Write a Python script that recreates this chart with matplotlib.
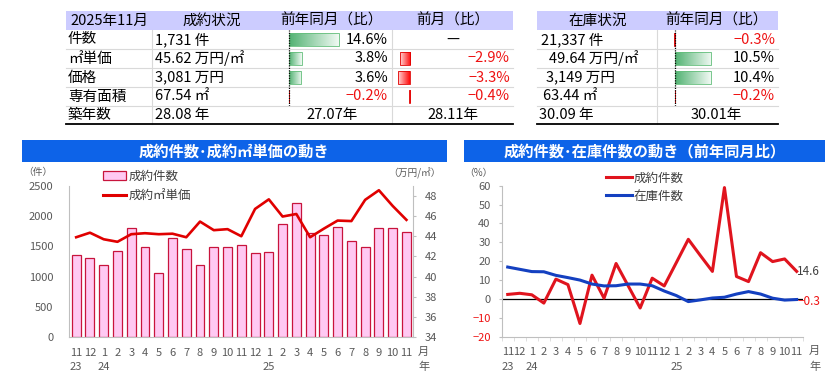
import numpy as np
import matplotlib
matplotlib.use("Agg")
import matplotlib.pyplot as plt
from matplotlib.patches import Rectangle, Patch
from matplotlib.lines import Line2D
from matplotlib.colors import LinearSegmentedColormap

plt.rcParams['font.family'] = ['Noto Sans CJK JP', 'DejaVu Sans']

# ---- data ----
report_month = "2025年11月"
row_labels = ["件数", "㎡単価", "価格", "専有面積", "築年数"]
sold_values = ["1,731 件", "45.62 万円/㎡", "3,081 万円", "67.54 ㎡", "28.08 年"]
sold_yoy = [14.6, 3.8, 3.6, -0.2]
sold_mom = [None, -2.9, -3.3, -0.4]
sold_age_yoy = "27.07年"
sold_age_mom = "28.11年"
stock_values = ["21,337 件", "49.64 万円/㎡", "3,149 万円", "63.44 ㎡", "30.09 年"]
stock_yoy = [-0.3, 10.5, 10.4, -0.2]
stock_age_yoy = "30.01年"

months = ["11", "12", "1", "2", "3", "4", "5", "6", "7", "8", "9", "10",
          "11", "12", "1", "2", "3", "4", "5", "6", "7", "8", "9", "10", "11"]
years = {0: "23", 2: "24", 14: "25"}
sold_count = [1365, 1300, 1192, 1418, 1797, 1494, 1065, 1630, 1461, 1192, 1497, 1494,
              1515, 1395, 1412, 1868, 2210, 1723, 1684, 1812, 1596, 1484, 1797, 1810, 1731]
sold_unit_price = [43.9, 44.35, 43.7, 43.45, 44.2, 44.3, 44.2, 44.25, 43.9, 45.45, 44.6, 44.7,
                   44.0, 46.7, 47.65, 45.95, 46.2, 43.9, 44.75, 45.55, 45.5, 47.6, 48.55, 47.0, 45.62]
sold_count_yoy = [2.4, 3.0, 2.2, -2.2, 10.5, 7.6, -13.0, 12.6, 0.4, 18.8, 7.0, -4.8,
                  11.0, 6.9, 19.2, 31.6, 23.0, 14.6, 59.0, 11.9, 9.2, 24.5, 19.8, 21.2, 14.6]
stock_count_yoy = [16.9, 15.7, 14.5, 14.4, 12.5, 11.3, 10.0, 7.9, 6.9, 7.0, 7.9, 7.9,
                   7.0, 4.2, 1.8, -1.4, -0.5, 0.5, 0.9, 2.6, 3.9, 2.6, 0.4, -0.6, -0.3]

W, H = 840, 383
GRAY = '#595959'
NEG = '#ee1111'

fig = plt.figure(figsize=(W / 100, H / 100), dpi=100)


def px_axes(x0, y0, x1, y1):
    return fig.add_axes([x0 / W, 1 - y1 / H, (x1 - x0) / W, (y1 - y0) / H])


bg = px_axes(0, 0, W, H)
bg.set_xlim(0, W)
bg.set_ylim(H, 0)
bg.axis('off')

# ---- tables ----
row_edges = [30, 49, 68, 87, 106, 124]
row_mid = [(a + b) / 2 for a, b in zip(row_edges[:-1], row_edges[1:])]
fs = 10.5


def pct(v):
    return f"{v:.1f}%".replace('-', '−')


def table_frame(x0, x1, vlines):
    bg.add_patch(Rectangle((x0, 11), x1 - x0, 19, color='#ccccff', lw=0))
    for y in row_edges[1:-1]:
        bg.plot([x0, x1], [y, y], color='#d9d9d9', lw=0.8)
    for x in vlines:
        bg.plot([x, x], [30, 124], color='#d9d9d9', lw=0.8)
    bg.plot([x0, x1], [124, 124], color='black', lw=1.3)


table_frame(66, 513, [151.7, 391.7])
table_frame(537, 778, [656.7])

bg.text(70, 20.5, report_month, fontsize=fs, va='center')
bg.text(211.7, 20.5, "成約状況", fontsize=fs, va='center', ha='center')
bg.text(331.7, 20.5, "前年同月（比）", fontsize=fs, va='center', ha='center')
bg.text(453, 20.5, "前月（比）", fontsize=fs, va='center', ha='center')
bg.text(598, 20.5, "在庫状況", fontsize=fs, va='center', ha='center')
bg.text(716.7, 20.5, "前年同月（比）", fontsize=fs, va='center', ha='center')

for i, lab in enumerate(row_labels):
    bg.text(68, row_mid[i], lab, fontsize=fs, va='center')
    bg.text(155, row_mid[i], sold_values[i], fontsize=fs, va='center')
stock_x = [541, 549, 546, 543, 539]
for i, s in enumerate(stock_values):
    bg.text(stock_x[i], row_mid[i], s, fontsize=fs, va='center')

for i, v in enumerate(sold_yoy):
    bg.text(388, row_mid[i], pct(v), fontsize=fs, va='center', ha='right',
            color=NEG if v < 0 else 'black')
for i, v in enumerate(sold_mom):
    if v is None:
        bg.text(453, row_mid[i], "—", fontsize=fs, va='center', ha='center')
    else:
        bg.text(510, row_mid[i], pct(v), fontsize=fs, va='center', ha='right',
                color=NEG if v < 0 else 'black')
for i, v in enumerate(stock_yoy):
    bg.text(775, row_mid[i], pct(v), fontsize=fs, va='center', ha='right',
            color=NEG if v < 0 else 'black')
bg.text(331.7, row_mid[4], sold_age_yoy, fontsize=fs, va='center', ha='center')
bg.text(453, row_mid[4], sold_age_mom, fontsize=fs, va='center', ha='center')
bg.text(716.7, row_mid[4], stock_age_yoy, fontsize=fs, va='center', ha='center')

green_cmap = LinearSegmentedColormap.from_list('g', ['#52b272', '#f0f9f3'])
red_cmap = LinearSegmentedColormap.from_list('r', ['#ff0a0a', '#ffd6d6'])


def data_bars(axis_px, x0, x1, scale, values, dotted):
    ax = px_axes(x0, 30, x1, 106)
    grad = np.linspace(0, 1, 64).reshape(1, -1)
    h = 0.66
    for i, v in enumerate(values):
        if v is None:
            continue
        cmap, ec = (green_cmap, '#63be7b') if v >= 0 else (red_cmap, '#e00000')
        ax.imshow(grad, cmap=cmap, aspect='auto', interpolation='bilinear',
                  extent=(0, v, i + h / 2, i - h / 2))
        ax.barh(i, v, height=h, fill=False, edgecolor=ec, lw=0.6)
    if dotted:
        ax.axvline(0, color='black', ls=(0, (1, 1)), lw=0.9, zorder=5)
    ax.set_xlim((x0 - axis_px) / scale, (x1 - axis_px) / scale)
    ax.set_ylim(3.5, -0.5)
    ax.axis('off')


data_bars(289.3, 280, 390, 3.37, sold_yoy, True)
data_bars(410.3, 340, 411, 3.6, sold_mom, False)
data_bars(675.3, 665, 760, 3.43, stock_yoy, True)

# ---- chart banners ----
bg.add_patch(Rectangle((21.7, 140), 425, 22, color='#0d63e8', lw=0))
bg.text(234, 151.5, "成約件数･成約㎡単価の動き", color='white', fontsize=11,
        fontweight='bold', ha='center', va='center')
bg.add_patch(Rectangle((464, 140), 361, 22, color='#0d63e8', lw=0))
bg.text(644.5, 151.5, "成約件数･在庫件数の動き（前年同月比）", color='white', fontsize=11,
        fontweight='bold', ha='center', va='center')

bg.text(53, 172, "（件）", fontsize=7, color=GRAY, ha='right', va='center')
bg.text(441, 173, "（万円/㎡）", fontsize=7, color=GRAY, ha='right', va='center')
bg.text(493, 173, "（%）", fontsize=7, color=GRAY, ha='right', va='center')

x = np.arange(len(months))

# ---- left chart ----
ax1 = px_axes(69.3, 185.7, 413.3, 337.3)
ax1.bar(x, sold_count, width=0.65, color='#ffc9f2', edgecolor='#c8143c', lw=0.9)
ax1.set_xlim(-0.5, len(months) - 0.5)
ax1.set_ylim(0, 2500)
ax1.set_yticks(range(0, 2501, 500))
ax1.set_xticks(x, months)
ax1.tick_params(axis='y', length=0, pad=11.5, labelsize=8, labelcolor=GRAY)
ax1.tick_params(axis='x', length=0, pad=7.5, labelsize=8, labelcolor=GRAY)
for s in ['top', 'right']:
    ax1.spines[s].set_visible(False)
for s in ['left', 'bottom']:
    ax1.spines[s].set_color('#bfbfbf')
ax1.patch.set_alpha(0)

ax2 = ax1.twinx()
ax2.plot(x, sold_unit_price, color='#e00000', lw=1.9)
ax2.set_ylim(34, 49)
ax2.set_yticks(range(34, 49, 2))
ax2.tick_params(axis='y', length=2, color='#bfbfbf', pad=6, labelsize=8, labelcolor=GRAY)
for s in ['top', 'left', 'bottom']:
    ax2.spines[s].set_visible(False)
ax2.spines['right'].set_color('#bfbfbf')

for i, y in years.items():
    ax1.annotate(y, xy=(i, 0), xycoords=('data', 'axes fraction'), xytext=(0, -21.5),
                 textcoords='offset points', ha='center', va='center', fontsize=8, color=GRAY)
ax1.annotate("月", xy=(1, 0), xycoords='axes fraction', xytext=(3.4, -10.6),
             textcoords='offset points', ha='left', va='center', fontsize=8, color=GRAY)
ax1.annotate("年", xy=(1, 0), xycoords='axes fraction', xytext=(3.4, -21.5),
             textcoords='offset points', ha='left', va='center', fontsize=8, color=GRAY)

leg_kw = dict(frameon=False, borderpad=0, borderaxespad=0, fontsize=9,
              handletextpad=0.15, labelcolor='#404040')
fig.legend(handles=[Patch(facecolor='#ffc9f2', edgecolor='#c8143c', lw=0.9)], labels=["成約件数"],
           loc='center left', bbox_to_anchor=(102.7 / W, 1 - 176.7 / H), handlelength=1.9, **leg_kw)
fig.legend(handles=[Line2D([], [], color='#e00000', lw=2.2)], labels=["成約㎡単価"],
           loc='center left', bbox_to_anchor=(102.7 / W, 1 - 196 / H), handlelength=1.9, **leg_kw)

# ---- right chart ----
RED, BLUE = '#e0141e', '#1440c0'
ax3 = px_axes(501.7, 185.7, 802.7, 336.7)
ax3.axhline(0, color='black', lw=0.9)
ax3.plot(x, sold_count_yoy, color=RED, lw=2.2)
ax3.plot(x, stock_count_yoy, color=BLUE, lw=2.2)
ax3.set_xlim(-0.5, len(months) - 0.5)
ax3.set_ylim(-20, 60)
yt = list(range(-20, 61, 10))
ax3.set_yticks(yt, [str(t).replace('-', '−') for t in yt])
for t, lab in zip(yt, ax3.get_yticklabels()):
    lab.set_color(NEG if t < 0 else GRAY)
ax3.set_xticks(x, months)
ax3.set_xticks(np.arange(-0.5, len(months)), minor=True)
ax3.tick_params(axis='y', length=2, color='#bfbfbf', pad=6, labelsize=8)
ax3.tick_params(axis='x', which='major', length=0, pad=7.5, labelsize=8, labelcolor=GRAY)
ax3.tick_params(axis='x', which='minor', length=3, color='#d9d9d9')
for s in ['top', 'right']:
    ax3.spines[s].set_visible(False)
for s in ['left', 'bottom']:
    ax3.spines[s].set_color('#bfbfbf')

ax3.annotate(f"{sold_count_yoy[-1]:.1f}", xy=(x[-1], sold_count_yoy[-1]), xytext=(0.5, 0),
             textcoords='offset points', ha='left', va='center', fontsize=8.5, color='#404040')
ax3.annotate(f"{stock_count_yoy[-1]:.1f}".replace('-', '−'), xy=(x[-1], stock_count_yoy[-1]),
             xytext=(0.5, -1.5), textcoords='offset points', ha='left', va='center',
             fontsize=8.5, color=NEG)
for i, y in years.items():
    ax3.annotate(y, xy=(i, 0), xycoords=('data', 'axes fraction'), xytext=(0, -21.5),
                 textcoords='offset points', ha='center', va='center', fontsize=8, color=GRAY)
ax3.annotate("月", xy=(1, 0), xycoords='axes fraction', xytext=(4.5, -10.4),
             textcoords='offset points', ha='left', va='center', fontsize=8, color=GRAY)
ax3.annotate("年", xy=(1, 0), xycoords='axes fraction', xytext=(4.5, -21.5),
             textcoords='offset points', ha='left', va='center', fontsize=8, color=GRAY)

fig.legend(handles=[Line2D([], [], color=RED, lw=2.2)], labels=["成約件数"],
           loc='center left', bbox_to_anchor=(605.7 / W, 1 - 178.3 / H), handlelength=2.1, **leg_kw)
fig.legend(handles=[Line2D([], [], color=BLUE, lw=2.2)], labels=["在庫件数"],
           loc='center left', bbox_to_anchor=(605.7 / W, 1 - 196 / H), handlelength=2.1, **leg_kw)

fig.savefig("out.png", dpi=100)
